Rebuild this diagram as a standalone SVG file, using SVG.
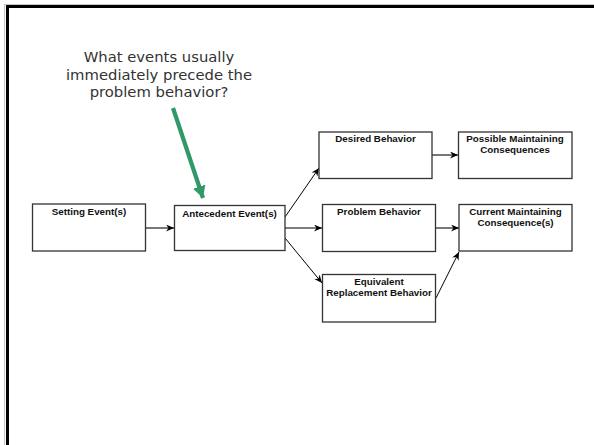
<svg xmlns="http://www.w3.org/2000/svg" width="594" height="445" viewBox="0 0 594 445">
  <style>
    .box { fill: #fff; stroke: #333; stroke-width: 1.3; }
    .lbl { font-family: "Liberation Sans", Arial, sans-serif; font-weight: bold; font-size: 9.8px; fill: #111; text-anchor: middle; }
    .q { font-family: "DejaVu Sans", Verdana, sans-serif; font-size: 14.8px; fill: #333; text-anchor: middle; }
    .h { stroke: #555; stroke-width: 1.6; fill: none; marker-end: url(#tip); }
    .d { stroke: #000; stroke-width: 1; fill: none; marker-end: url(#tip); }
  </style>
  <defs>
    <marker id="tip" markerUnits="userSpaceOnUse" markerWidth="10" markerHeight="8" refX="8" refY="3.5" orient="auto">
      <path d="M0,0 L8,3.5 L0,7 L2.5,3.5 z" fill="#000"/>
    </marker>
    <marker id="greenTip" markerUnits="userSpaceOnUse" markerWidth="14" markerHeight="14" refX="12" refY="6.5" orient="auto">
      <path d="M0,0 L12,6.5 L0,13 z" fill="#2f9a68"/>
    </marker>
  </defs>

  <!-- page frame -->
  <rect x="0" y="0" width="594" height="445" fill="#fff"/>
  <path d="M4.5,445 V4.5 H594" fill="none" stroke="#c8c8c8" stroke-width="1.2"/>
  <rect x="7.5" y="6.5" width="600" height="450" fill="none" stroke="#000" stroke-width="3"/>

  <!-- question callout -->
  <g id="question">
    <text class="q" x="159" y="62">What events usually</text>
    <text class="q" x="159" y="80">immediately precede the</text>
    <text class="q" x="159" y="97">problem behavior?</text>
    <line x1="173" y1="108" x2="203" y2="198" stroke="#2f9a68" stroke-width="4.2" marker-end="url(#greenTip)"/>
  </g>

  <!-- connectors -->
  <g id="connectors">
    <line class="h" x1="146" y1="228" x2="174" y2="228"/>
    <line class="d" x1="285" y1="217" x2="319" y2="168"/>
    <line class="h" x1="285" y1="228" x2="322" y2="228"/>
    <line class="d" x1="285" y1="238" x2="322" y2="283"/>
    <line class="h" x1="432" y1="155" x2="458" y2="155"/>
    <line class="h" x1="436" y1="228" x2="459" y2="228"/>
    <line class="d" x1="436" y1="298" x2="459" y2="252"/>
  </g>

  <!-- nodes -->
  <g id="setting">
    <rect class="box" x="32.5" y="204" width="113" height="47"/>
    <text class="lbl" x="89" y="215">Setting Event(s)</text>
  </g>
  <g id="antecedent">
    <rect class="box" x="174.5" y="205.5" width="110.5" height="45"/>
    <text class="lbl" x="229.5" y="216.5">Antecedent Event(s)</text>
  </g>
  <g id="desired">
    <rect class="box" x="319" y="132" width="113" height="46.5"/>
    <text class="lbl" x="375.5" y="142">Desired Behavior</text>
  </g>
  <g id="possible">
    <rect class="box" x="458.5" y="132" width="113.5" height="46.5"/>
    <text class="lbl" x="515" y="142">Possible Maintaining</text>
    <text class="lbl" x="515" y="153">Consequences</text>
  </g>
  <g id="problem">
    <rect class="box" x="322.5" y="204.5" width="113" height="47"/>
    <text class="lbl" x="379" y="215">Problem Behavior</text>
  </g>
  <g id="current">
    <rect class="box" x="459" y="204.5" width="113" height="46.5"/>
    <text class="lbl" x="515.5" y="215">Current Maintaining</text>
    <text class="lbl" x="515.5" y="226">Consequence(s)</text>
  </g>
  <g id="equivalent">
    <rect class="box" x="322.5" y="274.5" width="113" height="47.5"/>
    <text class="lbl" x="379" y="285">Equivalent</text>
    <text class="lbl" x="379" y="296">Replacement Behavior</text>
  </g>
</svg>
